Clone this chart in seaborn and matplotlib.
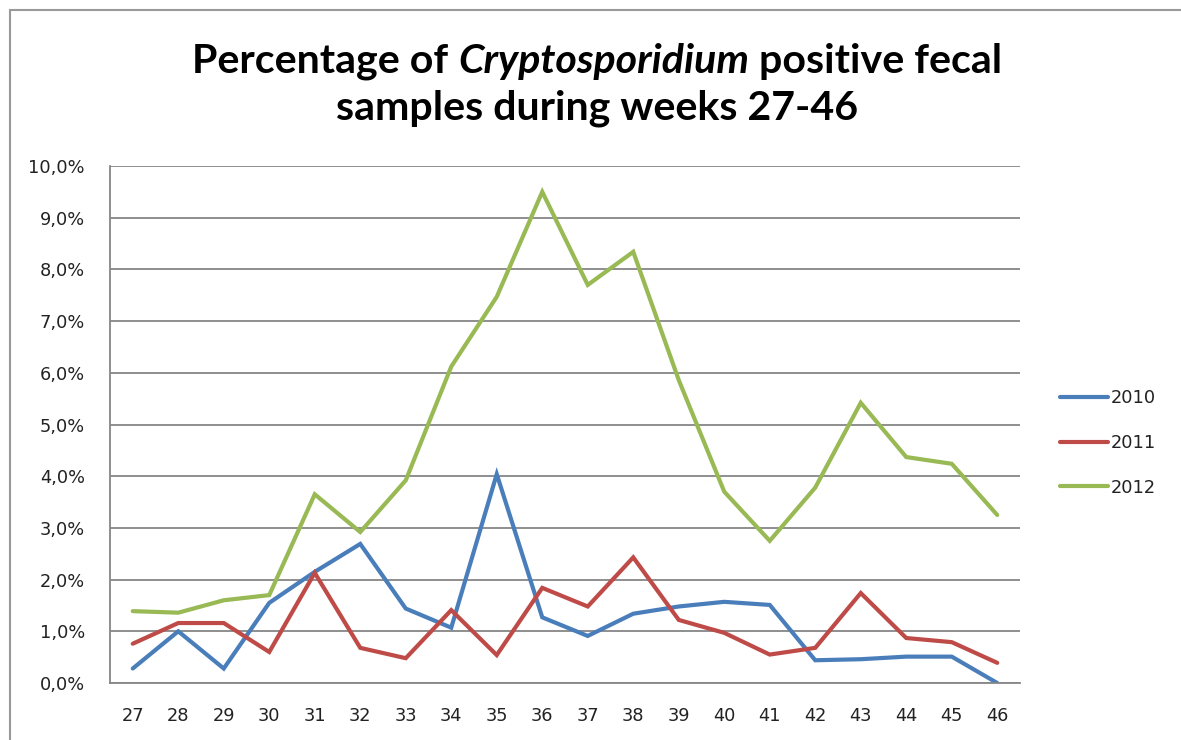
import numpy as np
import pandas as pd
import matplotlib
matplotlib.use("Agg")
import matplotlib.pyplot as plt
from matplotlib.lines import Line2D
import seaborn as sns

weeks = list(range(27, 47))
pct_2010 = [0.28, 1.00, 0.28, 1.55, 2.15, 2.69, 1.44, 1.07, 4.04, 1.27, 0.91, 1.34,
            1.48, 1.57, 1.51, 0.44, 0.46, 0.51, 0.51, 0.00]
pct_2011 = [0.76, 1.16, 1.16, 0.60, 2.13, 0.68, 0.48, 1.41, 0.54, 1.84, 1.48, 2.43,
            1.22, 0.97, 0.55, 0.68, 1.74, 0.87, 0.79, 0.39]
pct_2012 = [1.39, 1.36, 1.60, 1.70, 3.65, 2.92, 3.92, 6.12, 7.47, 9.50, 7.70, 8.34,
            5.86, 3.70, 2.75, 3.78, 5.42, 4.37, 4.24, 3.25]
years = ["2010", "2011", "2012"]
colors = ["#4A7EBB", "#BE4B48", "#98B954"]
ytick_vals = [i for i in range(0, 11)]
ytick_labels = [f"{v},0%" for v in ytick_vals]

df = pd.DataFrame({
    "week": weeks * 3,
    "pct": pct_2010 + pct_2011 + pct_2012,
    "year": [years[0]] * 20 + [years[1]] * 20 + [years[2]] * 20,
})

sns.set_style("white")
plt.rcParams["font.family"] = ["DejaVu Sans"]

W, H = 1181, 740
fig = plt.figure(figsize=(W / 100, H / 100), dpi=100)
fig.patch.set_facecolor("white")
ax = fig.add_axes([110 / W, (H - 683) / H, 910 / W, 517 / H])

sns.lineplot(data=df, x="week", y="pct", hue="year", palette=colors,
             linewidth=3.0, ax=ax, legend=False)
for ln in ax.lines:
    ln.set_solid_joinstyle("miter")

ax.set_xlim(26.5, 46.5)
ax.set_ylim(0, 10)
ax.set_yticks(ytick_vals)
ax.set_yticklabels(ytick_labels)
ax.set_xticks(weeks)
ax.set_xticklabels([str(w) for w in weeks])
ax.set_xlabel("")
ax.set_ylabel("")
ax.yaxis.grid(True, color="#868686", linewidth=1.3)
ax.set_axisbelow(True)
for s in ["top", "right"]:
    ax.spines[s].set_visible(False)
ax.spines["left"].set_color("#868686")
ax.spines["bottom"].set_color("#868686")
ax.spines["left"].set_linewidth(1.3)
ax.spines["bottom"].set_linewidth(1.3)
ax.tick_params(axis="y", length=4, width=1.3, color="#868686", pad=14,
               labelsize=12.8, labelcolor="#222222")
ax.tick_params(axis="x", length=0, pad=17, labelsize=12.8, labelcolor="#222222")

handles = [Line2D([0], [0], color=c, linewidth=3.0) for c in colors]
leg = fig.legend(handles, years, loc="center left",
                 bbox_to_anchor=(1044 / W, 1 - 443 / H), frameon=False,
                 fontsize=12.8, handlelength=2.7, handletextpad=0.15,
                 labelspacing=1.5)
for t in leg.get_texts():
    t.set_color("#222222")

# Title with italic genus name
tfont = dict(family="Lato", weight="bold", size=29.6, color="black")
fig.canvas.draw()
renderer = fig.canvas.get_renderer()
parts = [("Percentage of ", "normal"), ("Cryptosporidium", "italic"),
         (" positive fecal", "normal")]
texts = []
for s, style in parts:
    t = fig.text(0, 1 - 62 / H, s, ha="left", va="center", style=style,
                 **tfont)
    texts.append(t)
widths = [t.get_window_extent(renderer).width for t in texts]
total = sum(widths)
x = 597 - total / 2
for t, w in zip(texts, widths):
    t.set_x(x / W)
    x += w
fig.text(597 / W, 1 - 108 / H, "samples during weeks 27-46", ha="center",
         va="center", **tfont)

# outer chart border
fig.add_artist(Line2D([10 / W, 1], [1 - 10 / H, 1 - 10 / H], color="#999999",
                      linewidth=1.5, transform=fig.transFigure))
fig.add_artist(Line2D([10 / W, 10 / W], [0, 1 - 10 / H], color="#999999",
                      linewidth=1.5, transform=fig.transFigure))

fig.savefig("out.png", dpi=100, facecolor="white")
